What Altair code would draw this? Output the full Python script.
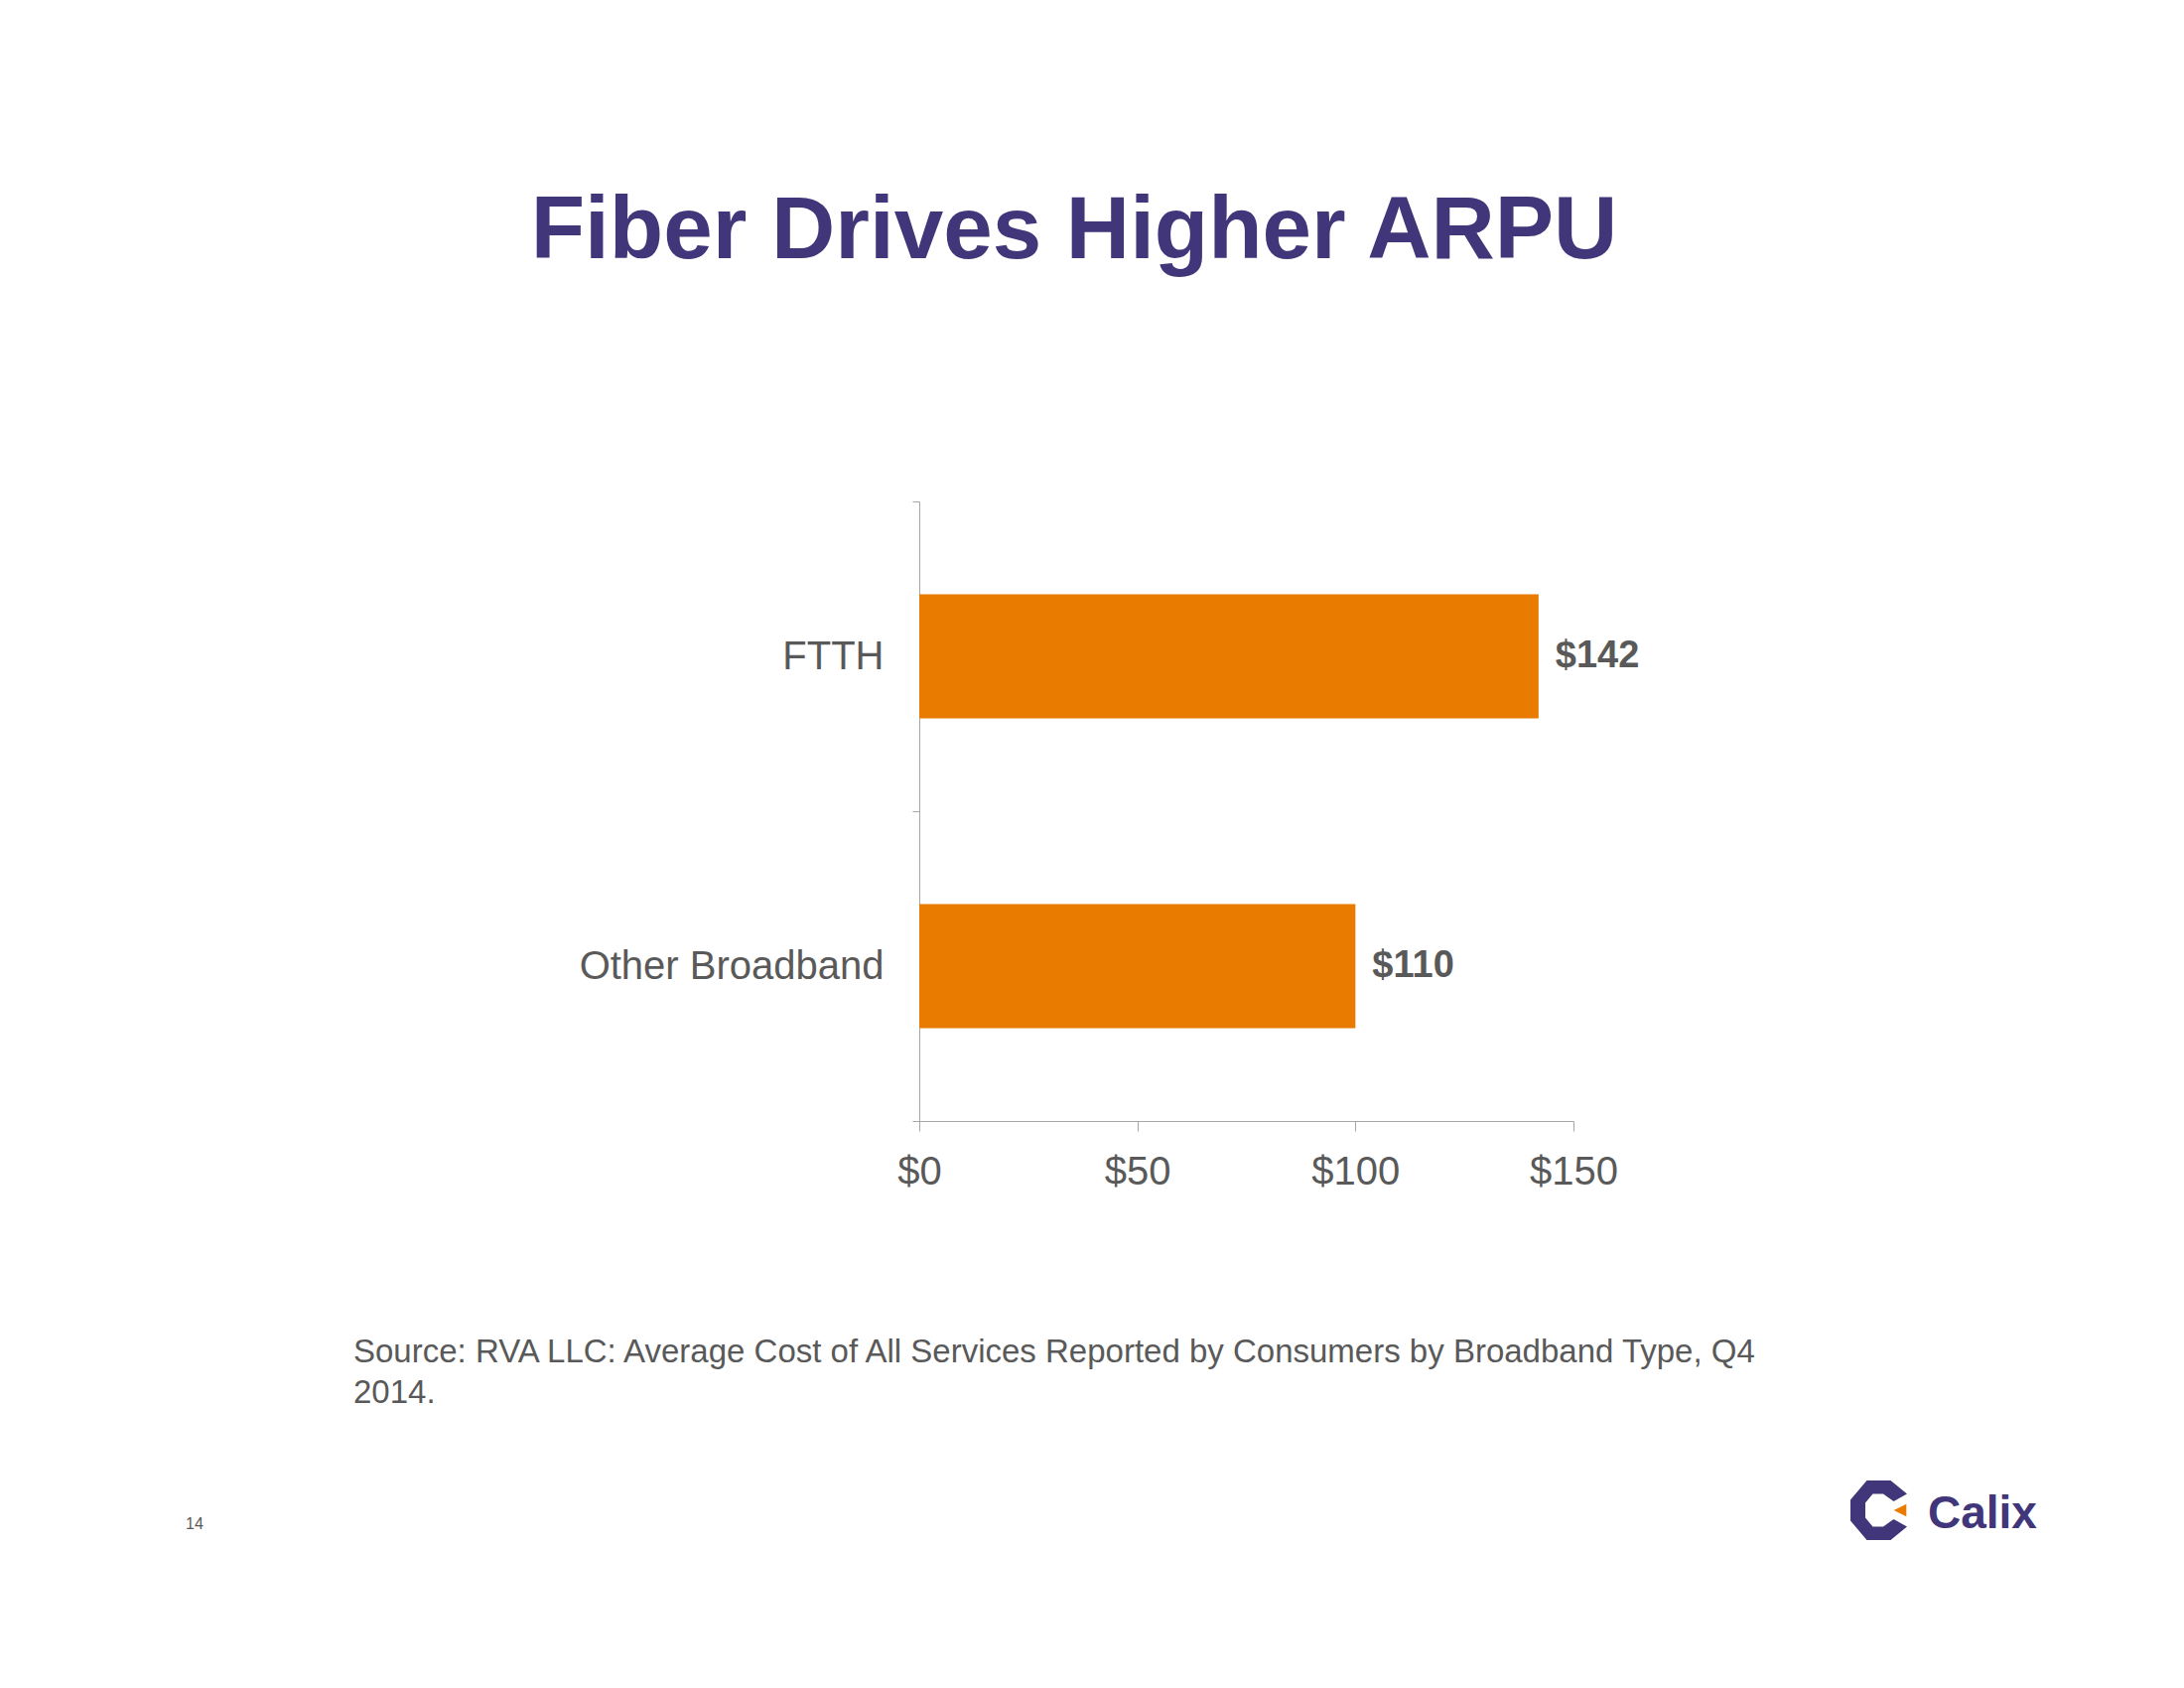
import altair as alt
import pandas as pd

categories = ["FTTH", "Other Broadband"]
values = [142, 100]
value_labels = ["$142", "$110"]
x_ticks = [0, 50, 100, 150]

title_text = "Fiber Drives Higher ARPU"
source_lines = [
    "Source: RVA LLC: Average Cost of All Services Reported by Consumers by Broadband Type, Q4",
    "2014.",
]
page_number = "14"
logo_text = "Calix"

FONT = "Liberation Sans"
ORANGE = "#E87B00"
PURPLE = "#41367A"
GREY = "#595959"

df = pd.DataFrame({"category": categories, "value": values, "label": value_labels})

x_enc = alt.X(
    "value:Q",
    scale=alt.Scale(domain=[0, 150], nice=False, zero=True),
    axis=alt.Axis(
        values=x_ticks,
        labelExpr="'$' + datum.value",
        labelFlush=False,
        title=None,
        grid=False,
        domainColor="#A6A6A6",
        tickColor="#A6A6A6",
        tickSize=10,
        labelFontSize=40,
        labelFont=FONT,
        labelColor=GREY,
        labelPadding=21,
    ),
)
y_enc = alt.Y(
    "category:N",
    sort=categories,
    scale=alt.Scale(paddingInner=0, paddingOuter=0),
    axis=alt.Axis(
        title=None,
        tickBand="extent",
        domainColor="#A6A6A6",
        tickColor="#A6A6A6",
        tickSize=7,
        labelFontSize=40,
        labelFont=FONT,
        labelColor=GREY,
        labelPadding=29,
        labelLimit=600,
    ),
)

base = alt.Chart(df)
bars = base.mark_bar(color=ORANGE, height={"band": 0.4}).encode(x=x_enc, y=y_enc)
labels = base.mark_text(
    align="left", baseline="middle", dx=17, fontSize=38, fontWeight="bold",
    font=FONT, color=GREY
).encode(x=alt.X("value:Q"), y=alt.Y("category:N", sort=categories), text="label:N")

one = pd.DataFrame({"k": [0]})
title = alt.Chart(one).mark_text(
    text=title_text, align="center", baseline="alphabetic", fontSize=89,
    fontWeight="bold", font=FONT, color=PURPLE
).encode(x=alt.value(156), y=alt.value(-245))

source = alt.Chart(one).mark_text(
    text=source_lines, align="left", baseline="alphabetic", fontSize=33,
    lineHeight=41, font=FONT, color=GREY
).encode(x=alt.value(-570), y=alt.value(867))

page = alt.Chart(one).mark_text(
    text=page_number, align="left", baseline="alphabetic", fontSize=16,
    font=FONT, color=GREY
).encode(x=alt.value(-739), y=alt.value(1035))

logo_word = alt.Chart(one).mark_text(
    text=logo_text, align="left", baseline="alphabetic", fontSize=46,
    fontWeight="bold", font=FONT, color=PURPLE
).encode(x=alt.value(1016), y=alt.value(1034))

c_path = ("M 0.9 -0.55 L 0.35 -1 L -0.45 -1 L -1 -0.35 L -1 0.35 L -0.45 1 L 0.35 1 "
          "L 0.9 0.55 L 0.45 0.3 L 0.1 0.55 L -0.25 0.55 L -0.5 0.25 L -0.5 -0.25 "
          "L -0.25 -0.55 L 0.1 -0.55 L 0.45 -0.3 Z")
logo_c = alt.Chart(one).mark_point(
    shape=c_path, filled=True, color=PURPLE, opacity=1, size=3600
).encode(x=alt.value(968), y=alt.value(1016))

tri_path = "M 1 -1 L 1 1 L -1 0 Z"
logo_tri = alt.Chart(one).mark_point(
    shape=tri_path, filled=True, color=ORANGE, opacity=1, size=160
).encode(x=alt.value(988), y=alt.value(1016))

chart = alt.layer(bars, labels, title, source, page, logo_word, logo_c, logo_tri).properties(
    width=659,
    height=624,
    background="white",
    autosize=alt.AutoSizeParams(type="none"),
    padding={"left": 918, "top": 497, "right": 600, "bottom": 560},
).configure_view(strokeWidth=0, stroke="transparent")

chart.save("out.html", embed_options={"renderer": "svg", "actions": False})
